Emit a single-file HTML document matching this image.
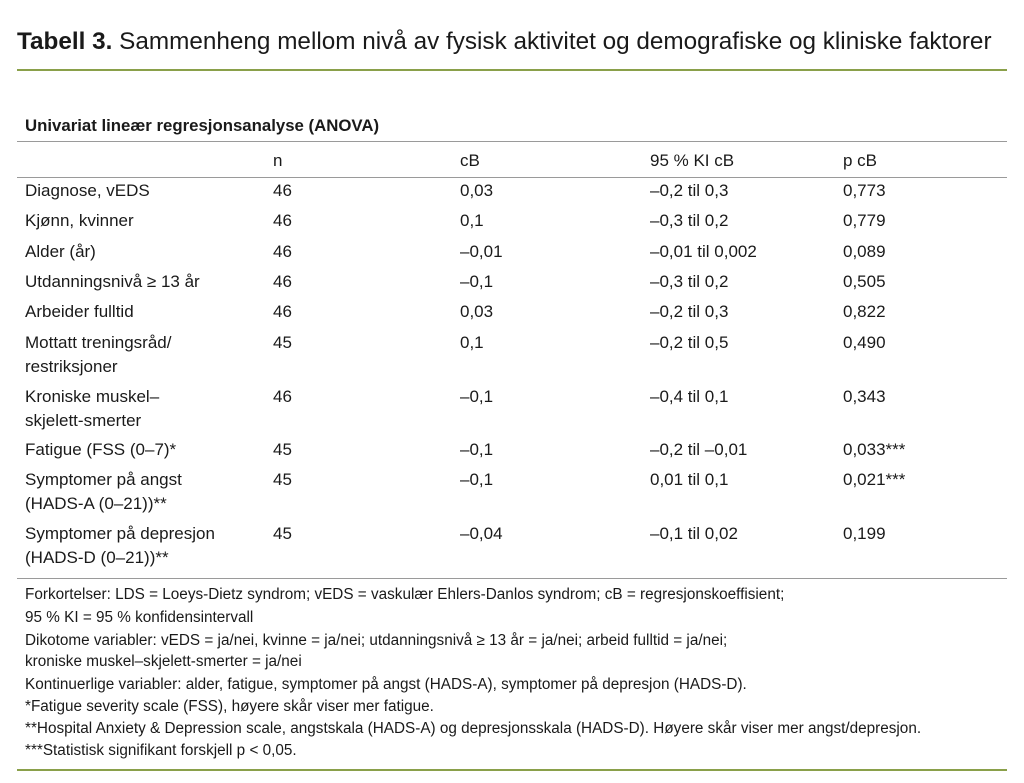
<!DOCTYPE html>
<html><head><meta charset="utf-8"><style>
body{margin:0;width:1024px;height:783px;background:#fff;position:relative;font-family:"Liberation Sans",sans-serif;color:#1a1a1a;overflow:hidden}
div{position:absolute;white-space:nowrap}
.t{font-size:17px;line-height:20px;margin-top:1px}
.f{font-size:15.3px;line-height:18px;left:25px;margin-top:1px}
.h{height:1px;background:#9a9a9a;left:17px;width:990px}
.g{height:2px;background:#8aa04a;left:17px;width:990px}
</style></head><body>
<div style="left:17px;top:27px;font-size:24.3px;line-height:30px"><b>Tabell 3.</b> Sammenheng mellom nivå av fysisk aktivitet og demografiske og kliniske faktorer</div>
<div class="g" style="top:69px"></div>
<div class="t" style="left:25px;top:115px;font-weight:bold;font-size:16.8px">Univariat lineær regresjonsanalyse (ANOVA)</div>
<div class="h" style="top:141px"></div>
<div class="t" style="left:273px;top:150px">n</div>
<div class="t" style="left:460px;top:150px">cB</div>
<div class="t" style="left:650px;top:150px">95 % KI cB</div>
<div class="t" style="left:843px;top:150px">p cB</div>
<div class="h" style="top:177px"></div>

<div class="t" style="left:25px;top:180px">Diagnose, vEDS</div><div class="t" style="left:273px;top:180px">46</div><div class="t" style="left:460px;top:180px">0,03</div><div class="t" style="left:650px;top:180px">–0,2 til 0,3</div><div class="t" style="left:843px;top:180px">0,773</div>
<div class="t" style="left:25px;top:210px">Kjønn, kvinner</div><div class="t" style="left:273px;top:210px">46</div><div class="t" style="left:460px;top:210px">0,1</div><div class="t" style="left:650px;top:210px">–0,3 til 0,2</div><div class="t" style="left:843px;top:210px">0,779</div>
<div class="t" style="left:25px;top:241px">Alder (år)</div><div class="t" style="left:273px;top:241px">46</div><div class="t" style="left:460px;top:241px">–0,01</div><div class="t" style="left:650px;top:241px">–0,01 til 0,002</div><div class="t" style="left:843px;top:241px">0,089</div>
<div class="t" style="left:25px;top:271px">Utdanningsnivå ≥ 13 år</div><div class="t" style="left:273px;top:271px">46</div><div class="t" style="left:460px;top:271px">–0,1</div><div class="t" style="left:650px;top:271px">–0,3 til 0,2</div><div class="t" style="left:843px;top:271px">0,505</div>
<div class="t" style="left:25px;top:301px">Arbeider fulltid</div><div class="t" style="left:273px;top:301px">46</div><div class="t" style="left:460px;top:301px">0,03</div><div class="t" style="left:650px;top:301px">–0,2 til 0,3</div><div class="t" style="left:843px;top:301px">0,822</div>
<div class="t" style="left:25px;top:332px">Mottatt treningsråd/</div><div class="t" style="left:25px;top:356px">restriksjoner</div><div class="t" style="left:273px;top:332px">45</div><div class="t" style="left:460px;top:332px">0,1</div><div class="t" style="left:650px;top:332px">–0,2 til 0,5</div><div class="t" style="left:843px;top:332px">0,490</div>
<div class="t" style="left:25px;top:386px">Kroniske muskel–</div><div class="t" style="left:25px;top:410px">skjelett-smerter</div><div class="t" style="left:273px;top:386px">46</div><div class="t" style="left:460px;top:386px">–0,1</div><div class="t" style="left:650px;top:386px">–0,4 til 0,1</div><div class="t" style="left:843px;top:386px">0,343</div>
<div class="t" style="left:25px;top:439px">Fatigue (FSS (0–7)*</div><div class="t" style="left:273px;top:439px">45</div><div class="t" style="left:460px;top:439px">–0,1</div><div class="t" style="left:650px;top:439px">–0,2 til –0,01</div><div class="t" style="left:843px;top:439px">0,033***</div>
<div class="t" style="left:25px;top:469px">Symptomer på angst</div><div class="t" style="left:25px;top:493px">(HADS-A (0–21))**</div><div class="t" style="left:273px;top:469px">45</div><div class="t" style="left:460px;top:469px">–0,1</div><div class="t" style="left:650px;top:469px">0,01 til 0,1</div><div class="t" style="left:843px;top:469px">0,021***</div>
<div class="t" style="left:25px;top:523px">Symptomer på depresjon</div><div class="t" style="left:25px;top:547px">(HADS-D (0–21))**</div><div class="t" style="left:273px;top:523px">45</div><div class="t" style="left:460px;top:523px">–0,04</div><div class="t" style="left:650px;top:523px">–0,1 til 0,02</div><div class="t" style="left:843px;top:523px">0,199</div>

<div class="h" style="top:578px"></div>
<div class="f" style="top:585px">Forkortelser: LDS = Loeys-Dietz syndrom; vEDS = vaskulær Ehlers-Danlos syndrom; cB = regresjonskoeffisient;</div>
<div class="f" style="top:608px">95 % KI = 95 % konfidensintervall</div>
<div class="f" style="top:631px">Dikotome variabler: vEDS = ja/nei, kvinne = ja/nei; utdanningsnivå ≥ 13 år = ja/nei; arbeid fulltid = ja/nei;</div>
<div class="f" style="top:652px">kroniske muskel–skjelett-smerter = ja/nei</div>
<div class="f" style="top:675px">Kontinuerlige variabler: alder, fatigue, symptomer på angst (HADS-A), symptomer på depresjon (HADS-D).</div>
<div class="f" style="top:697px">*Fatigue severity scale (FSS), høyere skår viser mer fatigue.</div>
<div class="f" style="top:719px">**Hospital Anxiety &amp; Depression scale, angstskala (HADS-A) og depresjonsskala (HADS-D). Høyere skår viser mer angst/depresjon.</div>
<div class="f" style="top:741px">***Statistisk signifikant forskjell p &lt; 0,05.</div>
<div class="g" style="top:769px"></div>
</body></html>
